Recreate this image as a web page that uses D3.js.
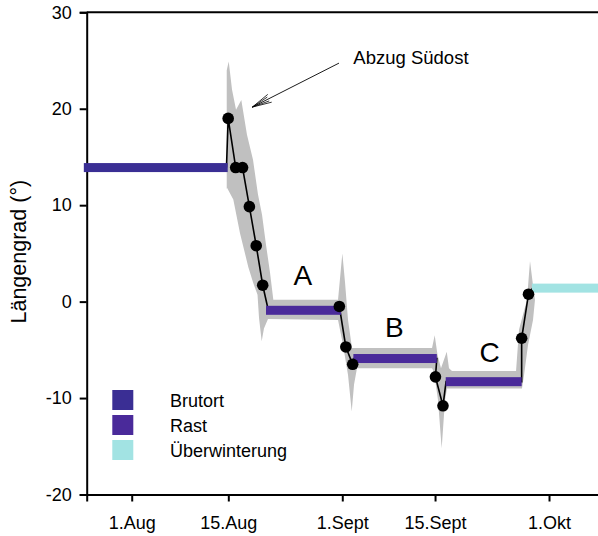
<!DOCTYPE html>
<html>
<head>
<meta charset="utf-8">
<script src="https://cdn.jsdelivr.net/npm/d3@7/dist/d3.min.js"></script>
<style>
  html, body { margin: 0; padding: 0; background: #fff; }
  svg { display: block; font-family: Arial, "Liberation Sans", sans-serif; }
</style>
</head>
<body>
<svg id="chart" width="598" height="536"></svg>
<script>
// ---------- data (days after 1 Aug, longitude in degrees) ----------
const xTickDays = [0, 14.12, 30.78, 44.34, 61];
const xTickLabels = ["1.Aug", "15.Aug", "1.Sept", "15.Sept", "1.Okt"];
const yTicks = [-20, -10, 0, 10, 20, 30];

const stayType  = ["Brutort", "Rast", "Rast", "Rast", "Überwinterung"];
const stayStart = [-7.0, 19.63, 32.4, 45.9, 58.5];
const stayEnd   = [14.03, 30.6, 44.6, 57.0, 69];
const stayLat   = [13.9, -0.9, -5.9, -8.3, 1.4];

const fixDay = [14.1, 15.2, 16.2, 17.2, 18.2, 19.15, 30.35, 31.3, 32.3, 44.4, 45.5, 57.0, 58.0];
const fixLat = [19.0, 13.9, 13.9, 9.85, 5.8, 1.7, -0.5, -4.7, -6.5, -7.8, -10.8, -3.8, 0.77];

const trackDay = [13.85, 14.1, 15.2, 16.2, 17.2, 18.2, 19.15, 20.0, 30.4, 30.35, 31.3, 32.3, 32.5, 44.6, 44.4, 45.5, 45.95, 57.0, 57.0, 58.0, 58.6];
const trackLat = [13.9, 19.0, 13.9, 13.9, 9.85, 5.8, 1.7, -1.0, -0.9, -0.5, -4.7, -6.5, -5.9, -5.9, -7.8, -10.8, -8.3, -8.3, -3.8, 0.77, 1.4];

// uncertainty band outline (day, degrees)
const bandDay = [13.89, 13.89, 14.18, 14.66, 15.25, 16.02, 16.85, 17.73, 18.46, 19.05, 19.63, 20.22, 20.70,
  30.16, 30.79, 31.18, 31.62, 32.20, 43.90, 44.29, 44.70, 45.21, 46.05, 46.38, 46.82, 56.18, 56.62, 57.78, 58.22, 58.66, 58.95,
  58.66, 57.93, 57.35, 57.05, 46.09, 45.80, 45.31, 44.77, 44.19, 43.90, 32.93, 32.50, 32.16, 31.62, 30.89, 30.16,
  19.92, 19.33, 19.00, 18.61, 18.39, 17.73, 17.04, 15.83, 14.85, 13.93];
const bandLat = [11.6, 24.0, 24.9, 22.0, 19.9, 20.9, 17.3, 14.7, 11.1, 9.0, 5.9, 3.0, 0.2,
  0.2, 5.0, 2.0, -1.9, -4.8, -4.8, -3.5, -5.5, -6.9, -5.2, -6.9, -7.2, -7.2, -2.9, 0.2, 4.2, 1.7, 0.2,
  -1.9, -4.5, -7.6, -9.0, -9.0, -10.2, -15.2, -10.2, -7.3, -6.9, -6.9, -8.6, -11.4, -7.6, -4.5, -1.9,
  -1.8, -2.8, -4.1, -1.7, 0.7, 2.0, 3.6, 7.1, 10.6, 11.8];

const segLabels = ["A", "B", "C"];
const segLabelDay = [25.0, 38.4, 52.3];
const segLabelLat = [1.73, -3.66, -6.3];

const legendLabels = ["Brutort", "Rast", "Überwinterung"];
const legendColors = ["#3a2e94", "#4a2a9a", "#a2e3e3"];

const noteText = "Abzug Südost";
const noteDay = 32.4, noteLat = 24.63;
const arrowFrom = [30.3, 24.73];
const arrowTo = [17.63, 20.17];

// ---------- scales ----------
const svg = d3.select("#chart");
const x = d3.scaleLinear().domain([-6.58, 68.5]).range([86.7, 86.7 + 75.08 * 6.841]);
const y = d3.scaleLinear().domain([-20, 30]).range([494.5, 12.3]);
const color = d3.scaleOrdinal().domain(legendLabels).range(legendColors);

// ---------- band ----------
const band = bandDay.map((d, i) => [d, bandLat[i]]);
svg.append("path")
  .attr("d", d3.line().x(d => x(d[0])).y(d => y(d[1]))(band) + "Z")
  .attr("fill", "#c0c0c0");

// ---------- axes ----------
const yAxis = d3.axisLeft(y).tickValues(yTicks).tickSize(7).tickPadding(8).tickFormat(d => String(d));
const gy = svg.append("g").attr("transform", `translate(${x.range()[0]},0)`).call(yAxis);
const xAxis = d3.axisBottom(x).tickValues(xTickDays).tickSize(7).tickPadding(14.5)
  .tickFormat((d, i) => xTickLabels[i]);
const gx = svg.append("g").attr("transform", `translate(0,${y(-20)})`).call(xAxis);
[gx, gy].forEach(g => {
  g.select(".domain").attr("stroke", "#000").attr("stroke-width", 2);
  g.selectAll(".tick line").attr("stroke", "#000").attr("stroke-width", 2);
  g.selectAll(".tick text").attr("fill", "#000").style("font-size", "18px")
   .style("font-family", "Arial, 'Liberation Sans', sans-serif");
});
// top frame line
svg.append("line")
  .attr("x1", x.range()[0]).attr("x2", 600)
  .attr("y1", y(30)).attr("y2", y(30))
  .attr("stroke", "#000").attr("stroke-width", 2);

// y axis title
svg.append("text")
  .attr("transform", `translate(26,${251.7}) rotate(-90)`)
  .attr("text-anchor", "middle")
  .style("font-size", "21.5px")
  .text("Längengrad (°)");

// ---------- track line ----------
const track = trackDay.map((d, i) => [d, trackLat[i]]);
svg.append("path")
  .attr("d", d3.line().x(d => x(d[0])).y(d => y(d[1]))(track))
  .attr("fill", "none").attr("stroke", "#000").attr("stroke-width", 1.6);

// ---------- stationary bars ----------
svg.selectAll("rect.stay").data(stayType).join("rect")
  .attr("class", "stay")
  .attr("x", (d, i) => x(stayStart[i]))
  .attr("width", (d, i) => x(stayEnd[i]) - x(stayStart[i]))
  .attr("y", (d, i) => y(stayLat[i]) - 4.5)
  .attr("height", 9)
  .attr("fill", d => color(d));

// ---------- fixes ----------
svg.selectAll("circle.fix").data(fixDay).join("circle")
  .attr("class", "fix")
  .attr("cx", d => x(d))
  .attr("cy", (d, i) => y(fixLat[i]))
  .attr("r", 5.8)
  .attr("fill", "#000");

// ---------- segment labels ----------
svg.selectAll("text.seg").data(segLabels).join("text")
  .attr("class", "seg")
  .attr("x", (d, i) => x(segLabelDay[i]))
  .attr("y", (d, i) => y(segLabelLat[i]))
  .attr("text-anchor", "middle")
  .style("font-size", "28px")
  .text(d => d);

// ---------- annotation ----------
svg.append("text")
  .attr("x", x(noteDay)).attr("y", y(noteLat))
  .style("font-size", "18.5px")
  .text(noteText);
const ax0 = x(arrowFrom[0]), ay0 = y(arrowFrom[1]);
const ax1 = x(arrowTo[0]), ay1 = y(arrowTo[1]);
svg.append("line").attr("x1", ax0).attr("y1", ay0).attr("x2", ax1).attr("y2", ay1)
  .attr("stroke", "#000").attr("stroke-width", 0.9);
const ang = Math.atan2(ay0 - ay1, ax0 - ax1);
[-0.22, 0.22, -0.12, 0.12].forEach((da, k) => {
  const len = k < 2 ? 20 : 18;
  svg.append("line")
    .attr("x1", ax1).attr("y1", ay1)
    .attr("x2", ax1 + len * Math.cos(ang + da))
    .attr("y2", ay1 + len * Math.sin(ang + da))
    .attr("stroke", "#000").attr("stroke-width", 0.8);
});

// ---------- legend ----------
const lg = svg.append("g");
legendLabels.forEach((lab, i) => {
  lg.append("rect")
    .attr("x", 112.3).attr("y", 390 + i * 25)
    .attr("width", 21).attr("height", 20)
    .attr("fill", legendColors[i]);
  lg.append("text")
    .attr("x", 170).attr("y", 407.3 + i * 25)
    .style("font-size", "18px")
    .text(lab);
});
</script>
</body>
</html>
